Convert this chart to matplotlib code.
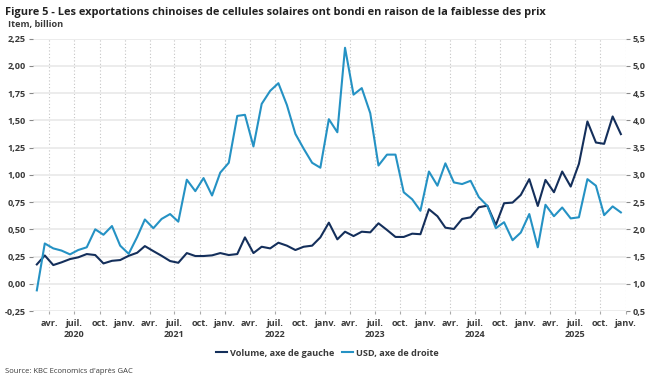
import matplotlib
matplotlib.use("Agg")
import matplotlib.pyplot as plt
import matplotlib.dates as mdates
from matplotlib.ticker import FixedLocator, FuncFormatter
import pandas as pd

# monthly points, plotted mid-month (Feb 2020 - Dec 2025)
dates = pd.date_range("2020-02-01", "2025-12-01", freq="MS") + pd.Timedelta(days=14)

volume = [0.178, 0.26, 0.172, 0.197, 0.227, 0.243, 0.273, 0.264, 0.187, 0.211,
          0.218, 0.257, 0.285, 0.346, 0.30, 0.257, 0.209, 0.193, 0.282, 0.255,
          0.255, 0.261, 0.282, 0.264, 0.273, 0.426, 0.282, 0.34, 0.325, 0.377,
          0.35, 0.31, 0.34, 0.35, 0.426, 0.561, 0.408, 0.478, 0.438, 0.478,
          0.472, 0.555, 0.494, 0.43, 0.43, 0.46, 0.455, 0.684, 0.62, 0.515,
          0.503, 0.595, 0.61, 0.702, 0.717, 0.54, 0.739, 0.745, 0.815, 0.96,
          0.714, 0.953, 0.84, 1.03, 0.892, 1.10, 1.489, 1.296, 1.284, 1.535,
          1.373]

usd = [0.88, 1.74, 1.65, 1.61, 1.54, 1.62, 1.67, 2.00, 1.90, 2.06,
       1.70, 1.55, 1.86, 2.18, 2.02, 2.19, 2.28, 2.14, 2.91, 2.70,
       2.94, 2.62, 3.04, 3.22, 4.08, 4.10, 3.52, 4.30, 4.54, 4.68,
       4.28, 3.75, 3.48, 3.22, 3.13, 4.02, 3.78, 5.33, 4.47, 4.59,
       4.13, 3.17, 3.37, 3.37, 2.68, 2.55, 2.34, 3.06, 2.80, 3.21,
       2.86, 2.83, 2.89, 2.59, 2.43, 2.02, 2.13, 1.80, 1.94, 2.28,
       1.67, 2.45, 2.24, 2.40, 2.20, 2.22, 2.92, 2.80, 2.26, 2.42,
       2.31]

left_ticks = [-0.25, 0.0, 0.25, 0.5, 0.75, 1.0, 1.25, 1.5, 1.75, 2.0, 2.25]
right_ticks = [0.5, 1.0, 1.5, 2.0, 2.5, 3.0, 3.5, 4.0, 4.5, 5.0, 5.5]
month_names = {1: "janv.", 4: "avr.", 7: "juil.", 10: "oct."}

DARK = "#142f5b"
LIGHT = "#2592c4"
TXT = "#3a3a3a"

plt.rcParams["font.family"] = ["Open Sans", "DejaVu Sans"]

fig = plt.figure(figsize=(6.52, 3.85), dpi=100)
ax = fig.add_axes([0.0506, 0.192, 0.9088, 0.708])
ax2 = ax.twinx()

ax.plot(dates, volume, color=DARK, lw=1.5, label="Volume, axe de gauche", zorder=3)
ax2.plot(dates, usd, color=LIGHT, lw=1.5, label="USD, axe de droite", zorder=3)

ax.set_xlim(pd.Timestamp("2020-02-01"), pd.Timestamp("2026-01-01"))
ax.set_ylim(-0.25, 2.25)
ax2.set_ylim(0.5, 5.5)

ax.yaxis.set_major_locator(FixedLocator(left_ticks))
ax.yaxis.set_major_formatter(FuncFormatter(lambda v, p: f"{v:.2f}".replace(".", ",")))
ax2.yaxis.set_major_locator(FixedLocator(right_ticks))
ax2.yaxis.set_major_formatter(FuncFormatter(lambda v, p: f"{v:.1f}".replace(".", ",")))

qticks = pd.date_range("2020-04-01", "2026-01-01", freq="QS")
def xlab(v, p):
    d = mdates.num2date(v)
    s = month_names.get(d.month, "")
    if d.month == 7:
        s += f"\n{d.year}"
    return s
ax.xaxis.set_major_locator(FixedLocator(mdates.date2num(qticks)))
ax.xaxis.set_major_formatter(FuncFormatter(xlab))

ax.grid(axis="y", color="#ebebeb", lw=1.3, zorder=0)
ax.grid(axis="x", color="#c4c4c4", lw=0.8, ls=(0, (1, 2)), zorder=0)
ax.set_axisbelow(True)

for a in (ax, ax2):
    for s in a.spines.values():
        s.set_visible(False)

ax.tick_params(axis="y", length=3, color="#888888", labelsize=6.6, labelcolor=TXT, pad=2)
ax2.tick_params(axis="y", length=3, color="#888888", labelsize=6.6, labelcolor=TXT, pad=2)
ax.tick_params(axis="x", length=2, color="#aaaaaa", labelsize=6.6, labelcolor=TXT, pad=4)
for lab in ax.get_xticklabels() + ax.get_yticklabels() + ax2.get_yticklabels():
    lab.set_fontweight("bold")

fig.text(0.008, 0.968, "Figure 5 - Les exportations chinoises de cellules solaires ont bondi en raison de la faiblesse des prix",
         fontsize=7.95, fontweight="bold", color="#222222", va="center")
fig.text(0.012, 0.937, "Item, billion", fontsize=6.6, fontweight="bold", color=TXT, va="center")
fig.text(0.008, 0.034, "Source: KBC Economics d'après GAC", fontsize=5.5, color=TXT, va="center")

h1, l1 = ax.get_legend_handles_labels()
h2, l2 = ax2.get_legend_handles_labels()
leg = fig.legend(h1 + h2, l1 + l2, loc="center", bbox_to_anchor=(0.502, 0.083), ncol=2,
                 frameon=False, fontsize=6.6, handlelength=1.2, handletextpad=0.3,
                 columnspacing=0.8)
for t in leg.get_texts():
    t.set_fontweight("bold")
    t.set_color(TXT)

fig.savefig("out.png", dpi=100)
